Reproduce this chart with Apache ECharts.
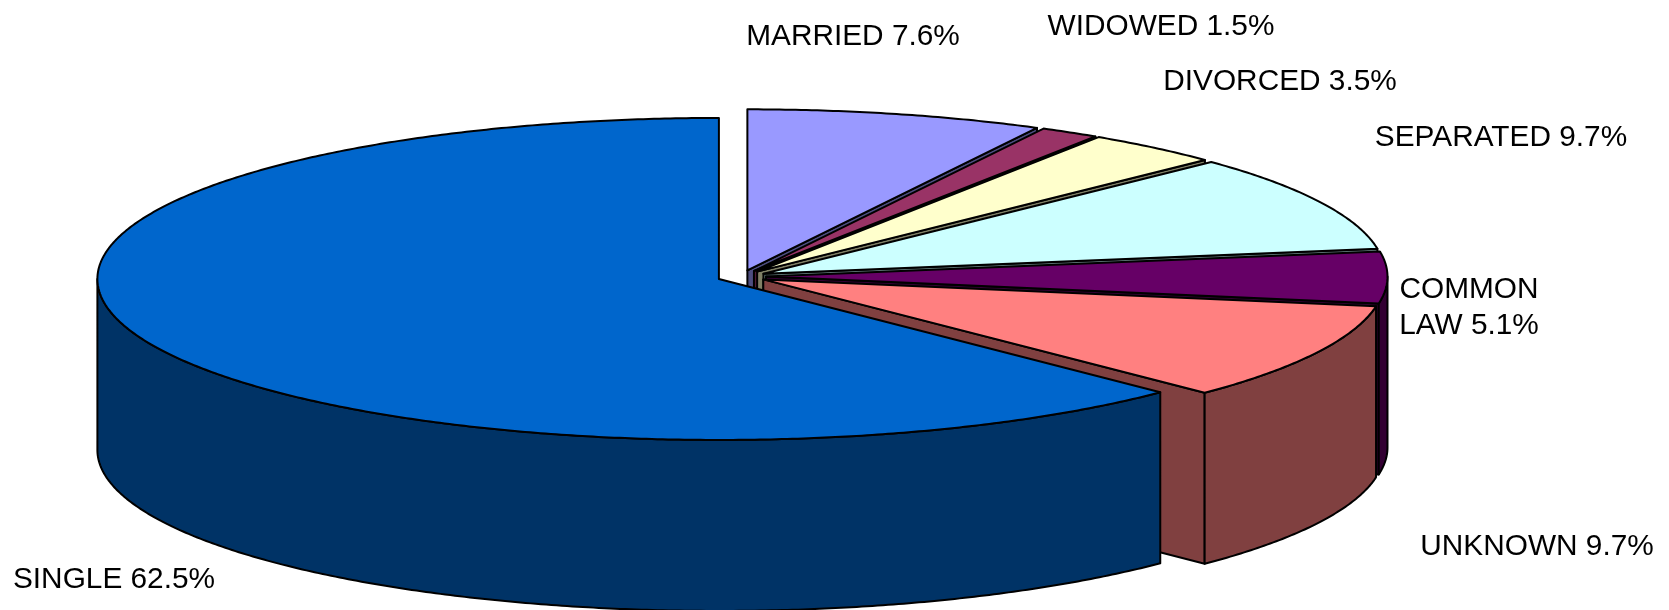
<!DOCTYPE html>
<html>
<head>
<meta charset="utf-8">
<style>html,body{margin:0;padding:0;background:#fff;overflow:hidden}#c{width:1669px;height:610px}</style>
<script src="https://cdn.jsdelivr.net/npm/echarts@6/dist/echarts.min.js"></script>
</head>
<body>
<div id="c"></div>
<script>
// Data, listed clockwise from 12 o'clock (also back-to-front)
const categories = ['MARRIED', 'WIDOWED', 'DIVORCED', 'SEPARATED', 'COMMON LAW', 'UNKNOWN', 'SINGLE'];
const shares = [7.7, 1.54, 3.54, 9.7, 5.14, 9.74, 62.45];
const labelTexts = ['MARRIED 7.6%', 'WIDOWED 1.5%', 'DIVORCED 3.5%', 'SEPARATED 9.7%', 'COMMON\nLAW 5.1%', 'UNKNOWN 9.7%', 'SINGLE 62.5%'];

// Style
const topColors = ['#9999FF', '#993366', '#FFFFCC', '#CCFFFF', '#660066', '#FF8080', '#0066CC'];
const sideColors = ['#4D4D80', '#4D1A33', '#808066', '#668080', '#330033', '#804040', '#003366'];

// Layout (pixels)
const labelCenters = [[853, 37], [1161, 26.5], [1280, 82], [1501, 138], [1469, 307.5], [1537, 547], [114, 580]];
const depth = 171;
const explode = 0.0394;
const fontSize = 29.8;

const total = shares.reduce((a, b) => a + b, 0);
let run = 0;
const starts = shares.map(v => { const s = run; run += v; return s / total * 2 * Math.PI; });

function renderItem(params, api) {
  const i = params.dataIndex;
  const sweep = api.value(2) / total * 2 * Math.PI;
  const a0 = starts[i], a1 = a0 + sweep, mid = a0 + sweep / 2;
  // Unit-disc position of this exploded slice; the hidden axes project the disc onto the ellipse.
  const ox = explode * Math.sin(mid), oy = explode * Math.cos(mid);
  const pt = a => api.coord([ox + Math.sin(a), oy + Math.cos(a)]);
  const apex = api.coord([ox, oy]);
  const down = p => [p[0], p[1] + depth];
  const lineStyle = c => ({ fill: c, stroke: '#000', lineWidth: 2, lineJoin: 'round' });
  const poly = (points, c) => ({ type: 'polygon', shape: { points }, style: lineStyle(c) });
  const arc = (from, to) => {
    const n = Math.max(2, Math.ceil((to - from) / (Math.PI / 360)));
    const out = [];
    for (let k = 0; k <= n; k++) out.push(pt(from + (to - from) * k / n));
    return out;
  };
  const children = [];
  // radial wall at the clockwise edge: faces the viewer on the right half
  if (a1 < Math.PI) {
    const e = pt(a1);
    children.push(poly([apex, e, down(e), down(apex)], sideColors[i]));
  }
  // outer rim wall: only the front half of the disc
  const w0 = Math.max(a0, Math.PI / 2), w1 = Math.min(a1, 3 * Math.PI / 2);
  if (w1 > w0) {
    const rim = arc(w0, w1);
    children.push(poly(rim.concat(rim.slice().reverse().map(down)), sideColors[i]));
  }
  // top face
  children.push(poly([apex].concat(arc(a0, a1)), topColors[i]));
  // label
  children.push({
    type: 'text',
    style: {
      text: labelTexts[i],
      x: labelCenters[i][0], y: labelCenters[i][1],
      align: 'center', verticalAlign: 'middle',
      textAlign: 'center', textVerticalAlign: 'middle',
      fontFamily: '"Liberation Sans", Arial, sans-serif',
      fontSize: fontSize, lineHeight: 36, fill: '#000'
    }
  });
  return { type: 'group', children };
}

const chart = echarts.init(document.getElementById('c'), null, { renderer: 'canvas' });
chart.setOption({
  animation: false,
  backgroundColor: '#fff',
  grid: { left: 120, width: 1243, top: 115.5, height: 322 },
  xAxis: { type: 'value', min: -1, max: 1, show: false },
  yAxis: { type: 'value', min: -1, max: 1, show: false },
  series: [{
    type: 'custom',
    coordinateSystem: 'cartesian2d',
    clip: false,
    silent: true,
    renderItem,
    encode: { x: 0, y: 1 },
    data: categories.map((name, i) => ({ name, value: [0, 0, shares[i]] }))
  }]
});
</script>
</body>
</html>
